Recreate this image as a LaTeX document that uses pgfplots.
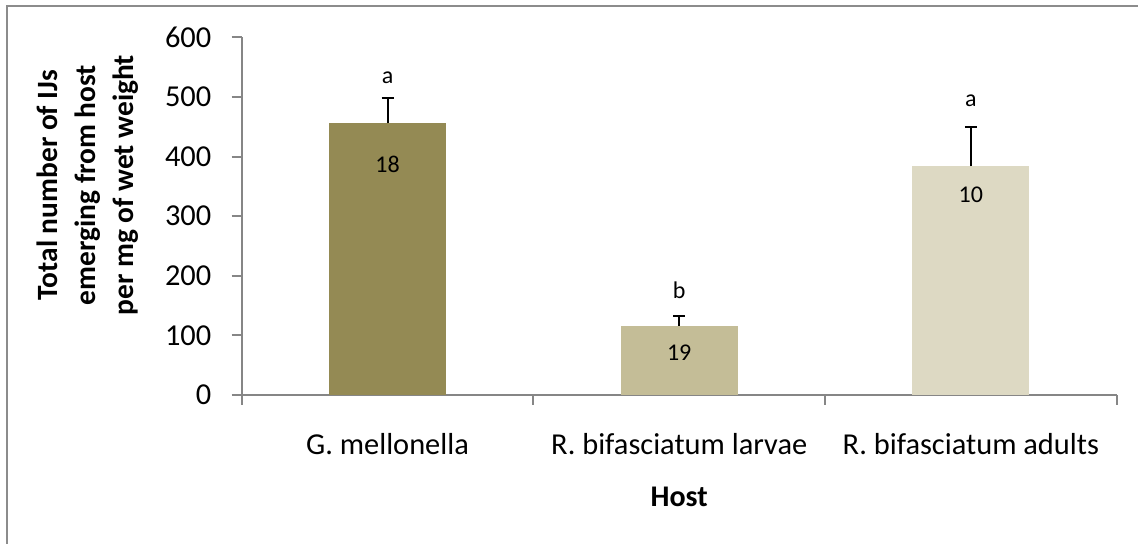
\documentclass[border=0pt]{standalone}
\usepackage{fontspec}
\setmainfont{Carlito}
\usepackage{pgfplots}
\pgfplotsset{compat=1.18}
\definecolor{bA}{HTML}{948A54}
\definecolor{bB}{HTML}{C4BD97}
\definecolor{bC}{HTML}{DDD9C3}
\definecolor{axgray}{HTML}{868686}
\begin{document}
\begin{tikzpicture}
\useasboundingbox (-120.85pt,-74.5pt) rectangle (448.15pt,197.5pt);
\draw[axgray!95, line width=1.1pt] (-117.3pt,-80pt) -- (-117.3pt,194.5pt) -- (460pt,194.5pt);
\begin{axis}[
  at={(0pt,0pt)}, anchor=south west,
  scale only axis, width=437.5pt, height=178.85pt,
  xmin=0, xmax=3, ymin=0, ymax=600,
  axis x line*=bottom, axis y line*=left,
  axis line style={axgray, line width=1pt},
  ytick={0,100,...,600},
  xtick={0,1,2,3}, xticklabels={},
  extra x ticks={0.5,1.5,2.5},
  extra x tick labels={G. mellonella, R. bifasciatum larvae, R. bifasciatum adults},
  extra x tick style={major tick length=0pt},
  tick align=outside, major tick length=5pt,
  tick style={axgray, line width=1pt},
  /pgf/number format/assume math mode=true,
  ticklabel style={font=\fontsize{15.2}{18}\selectfont},
  yticklabel style={anchor=east, inner sep=0pt, xshift=-10pt},
  xticklabel style={anchor=base, inner sep=0pt, yshift=-29.6pt},
  ylabel={Total number of IJs\\emerging from host\\per mg of wet weight},
  every axis y label/.style={at={(axis description cs:-0.1757,0.587)}, rotate=90, anchor=center, align=center, font=\bfseries\fontsize{14.7}{19}\selectfont},
  xlabel={Host},
  every axis x label/.style={at={(axis description cs:0.5,-0.3131)}, anchor=base, font=\bfseries\fontsize{15}{17}\selectfont},
  clip=false,
]
\addplot[ybar, bar width=58.5pt, bar shift=0pt, fill=bA, draw=none,
  error bars/.cd, y dir=plus, y explicit,
  error bar style={black, line width=1pt},
  error mark options={draw=black, line width=1pt, mark size=3pt, rotate=90}]
  coordinates {(0.5,456) +- (0,43)};
\addplot[ybar, bar width=58.5pt, bar shift=0pt, fill=bB, draw=none,
  error bars/.cd, y dir=plus, y explicit,
  error bar style={black, line width=1pt},
  error mark options={draw=black, line width=1pt, mark size=3pt, rotate=90}]
  coordinates {(1.5,116) +- (0,17)};
\addplot[ybar, bar width=58.5pt, bar shift=0pt, fill=bC, draw=none,
  error bars/.cd, y dir=plus, y explicit,
  error bar style={black, line width=1pt},
  error mark options={draw=black, line width=1pt, mark size=3pt, rotate=90}]
  coordinates {(2.5,384) +- (0,66)};
\begin{scope}[every node/.style={anchor=base, inner sep=0pt, font=\fontsize{12}{14}\selectfont}]
\node at (axis cs:0.5,523) {a};
\node at (axis cs:1.5,162) {b};
\node at (axis cs:2.5,484) {a};
\node at (axis cs:0.5,373) {18};
\node at (axis cs:1.5,58.7) {19};
\node at (axis cs:2.5,322.6) {10};
\end{scope}
\end{axis}
\end{tikzpicture}
\end{document}
